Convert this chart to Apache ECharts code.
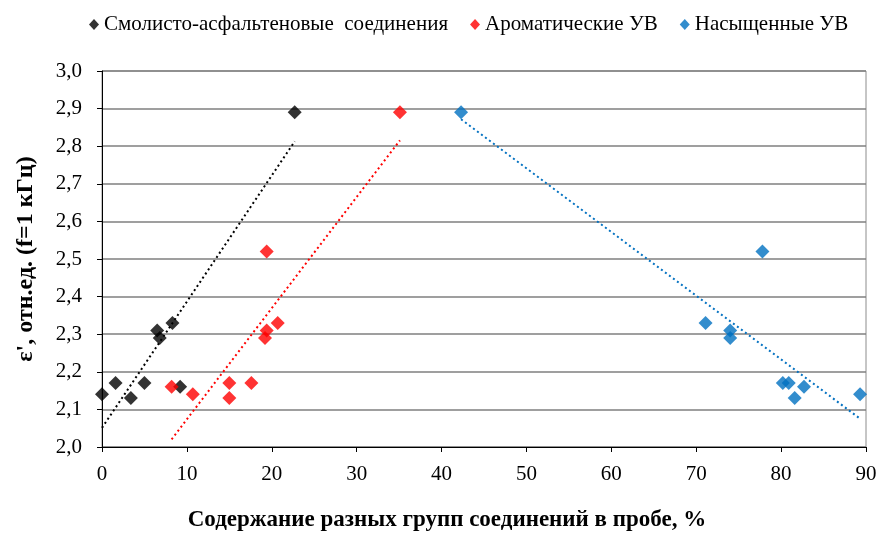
<!DOCTYPE html>
<html>
<head>
<meta charset="utf-8">
<script src="https://cdn.jsdelivr.net/npm/echarts@6/dist/echarts.min.js"></script>
<style>
  html, body { margin: 0; padding: 0; background: #fff; }
  #grafico { width: 879px; height: 533px; }
</style>
</head>
<body>
<div id="grafico"></div>
<script>
// names of the three groups
var seriesNames = ['Смолисто-асфальтеновые  соединения', 'Ароматические УВ', 'Насыщенные УВ'];
var seriesColors = ['#000000', '#ff0000', '#0070c0'];

// content, %  /  epsilon'
var smolX = [0, 1.6, 3.4, 5.0, 9.2, 6.5, 6.8, 8.3, 22.7];
var smolY = [2.14, 2.17, 2.13, 2.17, 2.16, 2.31, 2.29, 2.33, 2.89];

var aromX = [8.2, 10.7, 15.0, 15.0, 17.6, 19.4, 19.2, 20.7, 19.4, 35.1];
var aromY = [2.16, 2.14, 2.17, 2.13, 2.17, 2.31, 2.29, 2.33, 2.52, 2.89];

var nasX = [77.8, 71.1, 74.0, 74.0, 80.2, 80.9, 81.6, 82.7, 89.3, 42.3];
var nasY = [2.52, 2.33, 2.31, 2.29, 2.17, 2.17, 2.13, 2.16, 2.14, 2.89];

function pairs(xs, ys) {
  var out = [];
  for (var i = 0; i < xs.length; i++) out.push([xs[i], ys[i]]);
  return out;
}

// linear trendline (least squares) from min x to max x, like Excel
function trend(xs, ys) {
  var n = xs.length, sx = 0, sy = 0, sxx = 0, sxy = 0;
  for (var i = 0; i < n; i++) {
    sx += xs[i]; sy += ys[i]; sxx += xs[i] * xs[i]; sxy += xs[i] * ys[i];
  }
  var b = (n * sxy - sx * sy) / (n * sxx - sx * sx);
  var a = (sy - b * sx) / n;
  var x0 = Math.min.apply(null, xs), x1 = Math.max.apply(null, xs);
  return [[x0, a + b * x0], [x1, a + b * x1]];
}

var groups = [[smolX, smolY], [aromX, aromY], [nasX, nasY]];
var series = [];
groups.forEach(function (g, i) {
  series.push({
    name: seriesNames[i],
    type: 'scatter',
    symbol: 'diamond',
    symbolSize: 14,
    itemStyle: { color: seriesColors[i] },
    data: pairs(g[0], g[1]),
    z: 3
  });
  series.push({
    name: seriesNames[i] + ' trend',
    type: 'line',
    symbol: 'none',
    silent: true,
    lineStyle: { color: seriesColors[i], width: 2, type: [2, 3] },
    data: trend(g[0], g[1]),
    z: 2
  });
});

var chart = echarts.init(document.getElementById('grafico'));
var option = {
  animation: false,
  legend: {
    top: 9,
    left: 84,
    itemGap: 22,
    icon: 'diamond',
    itemWidth: 10,
    itemHeight: 11,
    textStyle: { fontFamily: 'Liberation Serif', fontSize: 21, color: '#000' },
    data: seriesNames
  },
  grid: {
    left: 102, right: 13, top: 71, bottom: 86,
    outerBoundsMode: 'none',
    show: true, borderColor: '#8c8c8c', borderWidth: 1
  },
  xAxis: {
    type: 'value',
    min: 0, max: 90, interval: 10,
    name: 'Содержание разных групп соединений в пробе, %',
    nameLocation: 'middle',
    nameGap: 62,
    nameTextStyle: {
      fontFamily: 'Liberation Serif', fontSize: 23, fontWeight: 'bold', color: '#000',
      padding: [0, 74, 0, 0]
    },
    axisLine: { lineStyle: { color: '#000' } },
    axisTick: { show: true, length: 5, lineStyle: { color: '#000' } },
    axisLabel: { fontFamily: 'Liberation Serif', fontSize: 21, color: '#000', margin: 17 },
    splitLine: { show: false }
  },
  yAxis: {
    type: 'value',
    min: 2.0, max: 3.0, interval: 0.1,
    name: "ε', отн.ед. (f=1 кГц)",
    nameLocation: 'middle',
    nameGap: 64,
    nameTextStyle: { fontFamily: 'Liberation Serif', fontSize: 24, fontWeight: 'bold', color: '#000' },
    axisLine: { show: true, lineStyle: { color: '#000' } },
    axisTick: { show: true, length: 5, lineStyle: { color: '#000' } },
    axisLabel: {
      fontFamily: 'Liberation Serif', fontSize: 21, color: '#000', margin: 20,
      formatter: function (v) { return v.toFixed(1).replace('.', ','); }
    },
    splitLine: { lineStyle: { color: '#7f7f7f', width: 1.5 } }
  },
  series: series
};
chart.setOption(option);
</script>
</body>
</html>
